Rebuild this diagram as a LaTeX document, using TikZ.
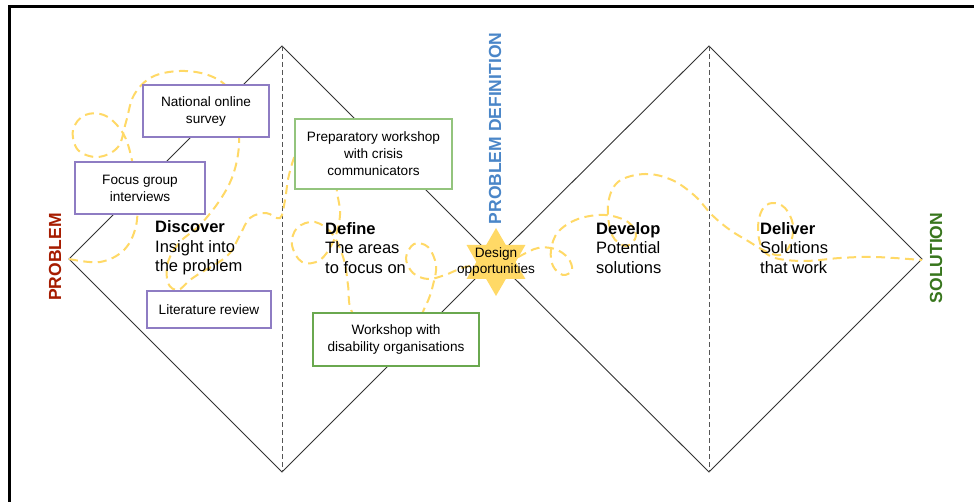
\documentclass[tikz,border=0pt]{standalone}
\usepackage{fontspec}
\setmainfont{Liberation Sans}
\definecolor{boxpurple}{HTML}{8E7CC3}
\definecolor{boxgreenA}{HTML}{93C47D}
\definecolor{boxgreenB}{HTML}{6AA84F}
\definecolor{trail}{HTML}{FFD966}
\definecolor{starfill}{HTML}{FFD966}
\definecolor{probred}{HTML}{A61C00}
\definecolor{defblue}{HTML}{4A86C8}
\definecolor{solgreen}{HTML}{38761D}
\definecolor{lineg}{HTML}{333333}
\definecolor{midg}{HTML}{555555}
\begin{document}
\begin{tikzpicture}[x=1pt,y=-1pt,
  diamline/.style={draw=lineg, line width=0.9pt},
  midline/.style={draw=midg, line width=0.9pt, dash pattern=on 5pt off 3pt},
  trailline/.style={draw=trail, line width=2pt, dash pattern=on 9pt off 5.5pt},
  boxtxt/.style={fill=white, align=center, inner sep=0pt, font=\fontsize{13.6}{17}\selectfont},
  pbox/.style={boxtxt, draw=boxpurple, line width=1.8pt},
  gboxA/.style={boxtxt, draw=boxgreenA, line width=1.8pt},
  gboxB/.style={boxtxt, draw=boxgreenB, line width=2.4pt},
  stage/.style={anchor=west, align=left, inner sep=0pt, font=\fontsize{16.5}{19.5}\selectfont},
  sidelabel/.style={rotate=90, inner sep=0pt, font=\fontsize{17.5}{20}\selectfont\bfseries}
]
\useasboundingbox (0,0) rectangle (974,502);
\fill[white] (0,0) rectangle (974,502);
% frame
\draw[line width=3pt] (9,502) -- (9,6.5) -- (974,6.5);
% diamonds
\coordinate (PL) at (69,259);
\coordinate (T1) at (282,46);
\coordinate (B1) at (282,472);
\coordinate (PD) at (495,259);
\coordinate (T2) at (709,46);
\coordinate (B2) at (709,472);
\coordinate (PR) at (922,259);
\draw[diamline] (PL) -- (T1) -- (PD) -- (B1) -- cycle;
\draw[diamline] (PD) -- (T2) -- (PR) -- (B2) -- cycle;
\draw[midline] (T1) -- (B1);
\draw[midline] (T2) -- (B2);
% trail
\draw[trailline] plot[smooth, tension=0.6] coordinates {
 (69,259) (100,262) (124,250) (136,226) (137,195) (133,165) (124,135) (106,116) (85,115) (73,130) (78,150) (98,157) (118,147) (126,122) (134,95) (152,77) (180,71) (208,75) (228,88) (237,112) (239,145) (233,175) (220,200) (200,225) (180,242) (168,262) (168,283) (178,290) (190,280) (202,272) (216,264) (230,253) (240,235) (250,218) (266,213) (280,218) (285,200) (289,175) (298,150) (315,140) (333,165) (337,192) (340,215) (334,240) (320,260) (302,262) (292,245) (297,228) (315,222) (333,235) (344,260) (348,285) (352,312) (375,332) (410,330) (426,305) (433,285) (436,265) (428,247) (414,244) (406,258) (413,273) (428,279) (445,275) (462,268) (480,264) (495,262) (512,260) (522,255) (538,248) (555,249) (568,258) (572,270) (563,275) (553,266) (551,250) (558,232) (578,219) (605,215) (628,222) (636,236) (626,246) (612,235) (608,205) (618,182) (645,174) (672,180) (695,196) (712,215) (730,230) (748,241) (765,251) (780,255) (790,245) (793,225) (785,208) (772,203) (762,210) (758,228) (762,248) (775,258) (805,261) (840,258) (875,257) (922,260)};
% star (hexagram)
\fill[starfill, shift={(496,262)}] (90:34) -- (210:34) -- (330:34) -- cycle (30:34) -- (150:34) -- (270:34) -- cycle;
\node[align=center, inner sep=0pt, font=\fontsize{13.6}{16}\selectfont] (dopp) at (496,262) {Design\\opportunities};
% boxes
\node[pbox, minimum width=126pt, minimum height=52pt] (nos) at (206,111) {National online\\survey};
\node[pbox, minimum width=130pt, minimum height=52pt] (fgi) at (140,188) {Focus group\\interviews};
\node[pbox, minimum width=124pt, minimum height=37pt] (lit) at (209,309.5) {Literature review};
\node[gboxA, minimum width=157pt, minimum height=70pt] (prep) at (373.5,154) {Preparatory workshop\\with crisis\\communicators};
\node[gboxB, minimum width=166pt, minimum height=53pt] (dis) at (396,339.5) {Workshop with\\disability organisations};
% stage texts
\node[stage] (disc) at (155,248) {\textbf{Discover}\\Insight into\\the problem};
\node[stage] (defn) at (325,248) {\textbf{Define}\\The areas\\to focus on};
\node[stage] (devl) at (596,248) {\textbf{Develop}\\Potential\\solutions};
\node[stage] (delv) at (760,248) {\textbf{Deliver}\\Solutions\\that work};
% side labels
\node[sidelabel, text=probred] (prob) at (55,257) {PROBLEM};
\node[sidelabel, text=defblue] (pdef) at (495,128.5) {PROBLEM DEFINITION};
\node[sidelabel, text=solgreen] (sol) at (936,258) {SOLUTION};
\end{tikzpicture}
\end{document}
